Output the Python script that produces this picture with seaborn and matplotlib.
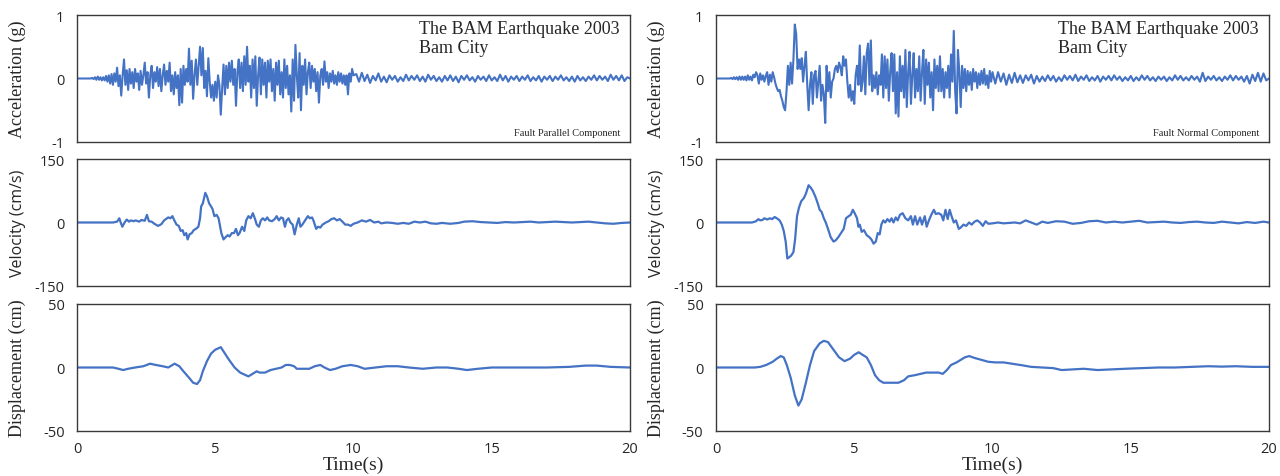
import numpy as np
import pandas as pd
import seaborn as sns
import matplotlib.pyplot as plt

# ---- data (time in s) ----
# acceleration (g), 0-10 s every 0.05 s, then 10.1-20 s every 0.1 s
acc_fp_strong = [
    0, 0, 0, 0, 0, 0, 0, 0, 0, 0, 0, 0.01, -0.01, 0.02, -0.02, 0.03, -0.02, 0.02, -0.03, 0.02,
    -0.03, 0.04, -0.05, 0.05, -0.08, 0.07, -0.10, 0.08, -0.05, 0.17, -0.12, 0.05, -0.27, 0.05, 0.30, -0.10, 0.13, -0.18, 0.15, -0.08,
    0.10, -0.15, 0.15, -0.05, 0.08, -0.18, 0.12, -0.10, 0.05, 0.25, -0.08, 0.10, -0.30, 0.05, 0.20, -0.15, 0.10, -0.05, 0.18, -0.12,
    0.15, -0.20, 0.05, 0.22, -0.10, 0.12, -0.05, 0.25, -0.20, 0.05, -0.25, 0.10, -0.15, 0.05, -0.42, 0.15, -0.38, 0.20, -0.10, 0.15,
    -0.05, 0.47, -0.10, 0.28, -0.32, 0.05, 0.30, -0.10, 0.20, 0.50, 0.05, 0.48, -0.15, 0.12, -0.28, 0.32, -0.05, -0.30, -0.10, -0.35,
    -0.05, -0.30, 0.05, -0.10, -0.57, -0.15, 0.22, -0.25, 0.20, -0.15, 0.25, -0.05, 0.28, -0.10, 0.15, -0.43, 0.10, 0.30, -0.15, 0.25,
    -0.20, 0.35, -0.10, 0.50, -0.05, 0.20, -0.30, 0.30, -0.15, 0.35, -0.43, 0.05, 0.33, -0.25, 0.30, -0.10, 0.25, -0.30, 0.28, -0.05,
    0.30, -0.20, 0.15, -0.35, 0.25, -0.10, 0.28, -0.25, 0.10, -0.30, 0.30, -0.15, 0.20, -0.25, 0.05, -0.52, 0.30, -0.35, 0.53, 0.05,
    -0.30, 0.40, -0.50, 0.20, -0.10, 0.30, -0.25, 0.10, 0.25, -0.15, 0.20, -0.05, 0.15, -0.20, 0.10, -0.38, 0.05, 0.15, -0.10, 0.27,
    -0.05, 0.10, -0.15, 0.08, -0.05, 0.12, -0.08, 0.05, -0.10, 0.10, -0.05, 0.08, -0.08, 0.05, -0.10, 0.05, -0.25, 0.08, -0.05, 0.15,
    0.05,
]
acc_fp_tail = [
    0.07, -0.05, 0.09, -0.04, 0.06, -0.07, 0.04, -0.03, 0.08, -0.05,
    0.03, -0.06, 0.05, -0.02, 0.04, -0.05, 0.02, -0.04, 0.06, -0.03,
    0.04, -0.02, 0.05, -0.04, 0.03, -0.05, 0.06, -0.02, 0.04, -0.04,
    0.02, -0.05, 0.04, -0.03, 0.05, -0.04, 0.03, -0.06, 0.04, -0.02,
    0.05, -0.03, 0.02, -0.05, 0.04, -0.02, 0.03, -0.04, 0.05, -0.03,
    0.02, -0.04, 0.06, -0.03, 0.04, -0.05, 0.03, -0.02, 0.04, -0.04,
    0.03, -0.02, 0.05, -0.04, 0.02, -0.03, 0.04, -0.05, 0.03, -0.02,
    0.04, -0.04, 0.03, -0.02, 0.05, -0.03, 0.02, -0.04, 0.03, -0.05,
    0.04, -0.03, 0.02, -0.04, 0.03, -0.02, 0.05, -0.03, 0.04, -0.02,
    0.03, -0.04, 0.06, -0.02, 0.04, -0.03, 0.05, -0.04, 0.02, 0.00,
]
acc_fn_strong = [
    0, 0, 0, 0, 0, 0, 0, 0, 0, 0, 0, 0.01, -0.01, 0.02, -0.01, 0.02, -0.02, 0.03, -0.02, 0.03,
    -0.02, 0.03, -0.03, 0.05, -0.02, 0.03, -0.03, 0.06, 0.02, 0.10, 0.05, -0.08, 0.08, -0.02, 0.05, -0.05, 0.04, 0.10, -0.10, 0.06,
    -0.05, 0.10, 0.02, -0.08, -0.15, -0.20, -0.18, -0.28, -0.35, -0.45, -0.50, -0.20, 0.20, -0.10, 0.25, -0.08, 0.30, 0.85, 0.70, 0.15,
    0.30, 0.15, 0.32, -0.05, 0.20, 0.42, -0.10, -0.50, -0.10, 0.10, -0.40, 0.05, 0.12, -0.30, -0.05, 0.20, -0.35, -0.10, -0.25, -0.70,
    0.20, -0.20, 0.10, -0.30, -0.05, 0.00, 0.15, 0.20, 0.10, 0.25, 0.18, 0.05, 0.35, 0.20, 0.30, -0.05, -0.30, -0.10, -0.35, -0.20,
    -0.40, 0.05, 0.20, -0.10, 0.52, -0.20, -0.05, 0.35, -0.25, 0.40, 0.55, -0.10, 0.60, -0.20, 0.05, -0.15, 0.10, -0.25, 0.05, -0.10,
    0.38, -0.30, 0.35, -0.15, 0.30, -0.35, 0.10, 0.40, -0.20, 0.38, -0.55, 0.10, -0.60, 0.35, -0.20, 0.20, -0.30, 0.45, -0.45, 0.10,
    0.42, -0.40, 0.05, 0.40, -0.30, 0.15, -0.20, 0.35, -0.35, 0.10, 0.45, -0.40, 0.30, -0.10, 0.25, -0.30, 0.10, -0.50, 0.30, -0.15,
    0.20, -0.20, 0.35, -0.20, 0.15, -0.30, 0.10, -0.15, 0.20, -0.30, 0.38, -0.05, 0.75, -0.20, -0.55, 0.45, 0.10, -0.45, 0.20, -0.15,
    0.15, -0.20, 0.12, -0.10, 0.10, -0.18, 0.15, -0.05, 0.10, -0.15, 0.08, -0.10, 0.12, -0.08, 0.15, -0.10, 0.05, -0.15, 0.12, -0.05,
    0.10,
]
acc_fn_tail = [
    -0.08, 0.10, -0.05, 0.08, -0.10, 0.06, -0.07, 0.09, -0.06, 0.05,
    -0.07, 0.05, -0.03, 0.06, -0.08, 0.04, -0.05, 0.03, -0.04, 0.05,
    -0.03, 0.04, -0.05, 0.02, -0.04, 0.05, -0.02, 0.04, -0.03, 0.06,
    -0.04, 0.03, -0.02, 0.05, -0.04, 0.02, -0.03, 0.04, -0.05, 0.03,
    -0.02, 0.04, -0.03, 0.05, -0.02, 0.03, -0.04, 0.02, -0.03, 0.04,
    -0.04, 0.02, -0.03, 0.05, -0.02, 0.04, -0.03, 0.02, -0.04, 0.03,
    -0.02, 0.03, -0.04, 0.02, -0.03, 0.05, -0.02, 0.04, -0.03, 0.02,
    -0.03, 0.04, -0.02, 0.03, -0.05, 0.09, -0.04, 0.03, -0.02, 0.04,
    -0.03, 0.02, -0.04, 0.03, -0.02, 0.05, -0.03, 0.04, -0.02, 0.03,
    -0.05, 0.04, -0.08, 0.06, -0.04, 0.09, -0.05, 0.08, -0.03, 0.00,
]

# velocity (cm/s), knots
vel_fp_t = [0, 1.3, 1.45, 1.53, 1.58, 1.64, 1.72, 1.8, 1.88, 1.95, 2.05, 2.12, 2.25, 2.33, 2.45, 2.53, 2.6, 2.7, 2.8, 2.93,
            3.05, 3.15, 3.3, 3.38, 3.45, 3.52, 3.6, 3.68, 3.75, 3.82, 3.88, 3.95, 4.0, 4.07, 4.15, 4.22, 4.3, 4.39, 4.45, 4.49,
            4.55, 4.64, 4.7, 4.78, 4.83, 4.9, 4.97, 5.05, 5.12, 5.22, 5.3, 5.37, 5.45, 5.52, 5.6, 5.68, 5.75, 5.82, 5.88, 5.97,
            6.05, 6.12, 6.2, 6.28, 6.36, 6.44, 6.5, 6.58, 6.65, 6.72, 6.8, 6.88, 6.95, 7.05, 7.15, 7.22, 7.3, 7.38, 7.45, 7.52,
            7.58, 7.65, 7.72, 7.8, 7.87, 7.95, 8.02, 8.08, 8.15, 8.25, 8.35, 8.42, 8.5, 8.55, 8.65, 8.72, 8.8, 8.88, 9.0, 9.1,
            9.2, 9.3, 9.4, 9.5, 9.6, 9.7, 9.8, 9.9, 10.0, 10.15, 10.3, 10.45, 10.6, 10.75, 10.9, 11.0, 11.2, 11.4, 11.6, 11.8,
            12.0, 12.2, 12.4, 12.6, 12.8, 13.0, 13.2, 13.5, 13.8, 14.0, 14.3, 14.6, 14.9, 15.2, 15.5, 15.8, 16.1, 16.4, 16.7, 17.0,
            17.3, 17.6, 17.9, 18.2, 18.5, 18.8, 19.1, 19.4, 19.7, 20.0]
vel_fp = [0, 0, 2, 10, 0, -10, 0, 7, 2, 5, 3, 5, 2, 6, 4, 18, 3, 2, -3, -8,
          -4, 5, 12, 10, 15, 5, -5, -8, -20, -18, -30, -25, -40, -28, -25, -18, -15, -10, 10, 38,
          45, 70, 62, 45, 40, 32, 15, 18, 10, -25, -40, -35, -30, -33, -25, -25, -15, -30, -25, -10,
          -20, 5, 15, 10, 22, 8, -5, -10, 5, 10, 5, 12, 5, 3, 8, 15, 5, 12, 10, -10,
          5, 10, 0, -5, -28, -5, 10, -10, -5, 5, 15, 10, 12, 5, -15, -10, -12, -5, 0, 3,
          8, 10, 5, 8, 2, -5, -5, -8, -3, 0, 5, 2, 6, 0, 2, -2, 0, -1, -3, -1,
          -3, 2, 0, 2, -2, -3, -1, -3, -1, 2, 3, 1, 0, -1, 1, 0, 1, 2, 0, 1,
          2, 1, 0, 1, 2, 0, -2, -3, -1, 0]
vel_fn_t = [0, 1.3, 1.45, 1.53, 1.6, 1.68, 1.75, 1.85, 1.95, 2.03, 2.12, 2.2, 2.3, 2.38, 2.45, 2.52, 2.58, 2.65, 2.72, 2.8,
            2.86, 2.93, 3.0, 3.08, 3.18, 3.25, 3.35, 3.43, 3.5, 3.6, 3.68, 3.75, 3.82, 3.9, 3.97, 4.05, 4.15, 4.25, 4.33, 4.42,
            4.52, 4.62, 4.7, 4.8, 4.87, 4.95, 5.03, 5.1, 5.15, 5.2, 5.27, 5.35, 5.45, 5.55, 5.62, 5.7, 5.78, 5.85, 5.92, 5.98,
            6.05, 6.12, 6.2, 6.28, 6.35, 6.42, 6.5, 6.57, 6.65, 6.75, 6.85, 6.95, 7.05, 7.12, 7.2, 7.28, 7.38, 7.45, 7.55, 7.62,
            7.7, 7.8, 7.88, 7.95, 8.05, 8.15, 8.22, 8.3, 8.38, 8.45, 8.52, 8.6, 8.68, 8.78, 8.85, 8.95, 9.05, 9.15, 9.25, 9.35,
            9.45, 9.55, 9.65, 9.75, 9.85, 10.0, 10.2, 10.4, 10.6, 10.8, 11.0, 11.2, 11.4, 11.6, 11.8, 12.0, 12.3, 12.6, 12.9, 13.2,
            13.5, 13.8, 14.1, 14.4, 14.7, 15.0, 15.3, 15.6, 15.9, 16.2, 16.5, 16.8, 17.1, 17.4, 17.7, 18.0, 18.3, 18.6, 18.9, 19.2,
            19.5, 19.8, 20.0]
vel_fn = [0, 0, 3, 8, 5, 6, 10, 7, 10, 8, 13, 10, 5, -5, -20, -45, -85, -82, -78, -70,
          -40, 15, 35, 50, 58, 68, 88, 82, 75, 60, 45, 30, 25, 10, 0, -15, -35, -45, -42, -35,
          -25, -15, 10, 15, 18, 30, 20, 10, -10, -5, -22, -18, -30, -35, -40, -50, -45, -25, -28, -5,
          5, 0, 8, 2, 10, 0, 12, 5, 18, 22, 10, 5, 15, -5, 15, -5, 12, -5, 15, -10,
          5, 20, 30, 20, 22, 18, 5, 30, 8, 30, 15, 0, 5, -15, -12, -5, -8, 0, -5, 2,
          5, 0, -8, 3, -3, -2, 0, -2, -1, 0, -2, 5, 0, -5, 2, -1, 3, 2, -3, -1,
          3, 4, 0, 2, 0, 2, 4, 0, 1, 2, 0, -1, 1, 2, 0, -1, 2, 0, -2, 1,
          -1, 2, 0]

# displacement (cm), knots
dis_fp_t = [0, 1.3, 1.5, 1.67, 1.85, 2.1, 2.4, 2.64, 2.85, 3.1, 3.3, 3.53, 3.7, 3.85, 4.05, 4.2, 4.34, 4.45, 4.55, 4.7,
            4.85, 5.0, 5.2, 5.35, 5.5, 5.7, 5.9, 6.1, 6.2, 6.35, 6.5, 6.6, 6.8, 7.0, 7.2, 7.4, 7.55, 7.7, 7.85, 7.95,
            8.2, 8.4, 8.6, 8.8, 8.95, 9.15, 9.35, 9.6, 9.9, 10.15, 10.4, 10.8, 11.2, 11.6, 12.0, 12.5, 13.0, 13.4, 13.8, 14.1,
            14.5, 15.0, 16.0, 17.0, 17.8, 18.4, 18.8, 19.3, 20.0]
dis_fp = [0, 0, -1, -2, -1, 0, 1, 3, 2, 1, 0, 3, 1, -3, -8, -12, -13, -10, -3, 5,
          11, 14, 16, 11, 6, 0, -4, -6, -7, -5, -3, -4, -4, -2, -1, 0, 2, 2, 1, -1,
          -1, -1, 1, 2, 0, -2, -1, 1, 2, 1, -1, 0, 1, 1, 0, -1, 0, 0, -1, -2,
          -1, 0, 0, 0, 0.5, 1.5, 1.5, 0.5, 0]
dis_fn_t = [0, 1.4, 1.6, 1.82, 2.05, 2.2, 2.34, 2.45, 2.56, 2.7, 2.85, 2.98, 3.1, 3.25, 3.4, 3.55, 3.75, 3.9, 4.05, 4.25,
            4.45, 4.65, 4.85, 5.0, 5.16, 5.3, 5.45, 5.6, 5.75, 5.9, 6.05, 6.3, 6.6, 6.8, 6.95, 7.2, 7.4, 7.6, 7.8, 8.05,
            8.2, 8.35, 8.5, 8.7, 8.85, 9.0, 9.16, 9.35, 9.6, 9.85, 10.1, 10.4, 10.7, 11.0, 11.4, 11.8, 12.2, 12.5, 12.9, 13.3,
            13.8, 14.3, 14.8, 15.4, 16.0, 16.6, 17.2, 17.8, 18.3, 18.8, 19.4, 20.0]
dis_fn = [0, 0, 0.5, 2, 4.5, 7, 9, 8, 2, -8, -22, -30, -25, -12, 2, 13, 19, 21, 20, 14,
          8, 5, 7, 10, 12, 10, 8, 2, -6, -10, -12, -12, -12, -10, -7, -6, -5, -4, -4, -4,
          -5, -2, 2, 4, 6, 8, 9, 7.5, 6, 4.5, 4, 4, 3, 2, 0.5, 0, -0.5, -2, -1.5, -1,
          -2, -1.5, -1, -0.5, 0, 0, 0.5, 1, 0.7, 1, 0.5, 0.5]

components = ["Fault Parallel Component", "Fault Normal Component"]
title_text = "The BAM Earthquake 2003\nBam City"
x_ticks = [0, 5, 10, 15, 20]

LINE = "#4472C4"
SERIF = ["Liberation Serif", "DejaVu Serif"]
SANS = ["Open Sans", "DejaVu Sans"]


def acc_series(strong, tail):
    t = list(0.05 * np.arange(len(strong))) + list(10 + 0.1 * np.arange(1, len(tail) + 1))
    return pd.DataFrame({"t": t, "v": list(strong) + list(tail)})


def style_axis(ax, lim, ticks, ylabel, label_font, label_size, show_x):
    ax.set_xlim(0, 20)
    ax.set_ylim(-lim, lim)
    ax.set_yticks(ticks)
    ax.set_yticklabels([str(v) for v in ticks], family=SANS, fontsize=10.5)
    ax.tick_params(length=0, pad=9)
    if show_x:
        ax.set_xticks(x_ticks)
        ax.set_xticklabels([str(v) for v in x_ticks], family=SANS, fontsize=10.5)
        ax.tick_params(axis="x", pad=7)
        ax.set_xlabel("Time(s)", family=SERIF, fontsize=14, labelpad=0)
    else:
        ax.set_xticks([])
        ax.set_xlabel("")
    ax.set_ylabel(ylabel, family=label_font, fontsize=label_size)
    ax.yaxis.set_label_coords(-0.092, 0.5)
    for sp in ax.spines.values():
        sp.set_visible(True)
        sp.set_color("#3a3a3a")
        sp.set_linewidth(1.0)


sns.set_style("white")
plt.rcParams["font.family"] = SANS

fig = plt.figure(figsize=(12.8, 4.77), dpi=100)

col_x = [77 / 1280, 716 / 1280]
col_w = 553 / 1280
row_y = [1 - 143 / 477, 1 - 287 / 477, 1 - 432 / 477]
row_h = 127 / 477

acc_data = [acc_series(acc_fp_strong, acc_fp_tail), acc_series(acc_fn_strong, acc_fn_tail)]
vel_data = [pd.DataFrame({"t": vel_fp_t, "v": vel_fp}), pd.DataFrame({"t": vel_fn_t, "v": vel_fn})]
dis_data = [pd.DataFrame({"t": dis_fp_t, "v": dis_fp}), pd.DataFrame({"t": dis_fn_t, "v": dis_fn})]

for c in range(2):
    # acceleration
    ax = fig.add_axes([col_x[c], row_y[0], col_w, row_h])
    sns.lineplot(data=acc_data[c], x="t", y="v", ax=ax, color=LINE, linewidth=1.5, errorbar=None)
    style_axis(ax, 1, [-1, 0, 1], "Acceleration (g)", SERIF, 13, False)
    ax.text(0.982, 0.96, title_text, transform=ax.transAxes, ha="right", va="top",
            multialignment="left", family=SERIF, fontsize=13, linespacing=1.15)
    ax.text(0.982, 0.04, components[c], transform=ax.transAxes, ha="right", va="bottom",
            family=SERIF, fontsize=7.5)

    # velocity
    ax = fig.add_axes([col_x[c], row_y[1], col_w, row_h])
    sns.lineplot(data=vel_data[c], x="t", y="v", ax=ax, color=LINE, linewidth=1.6, errorbar=None)
    style_axis(ax, 150, [-150, 0, 150], "Velocity (cm/s)", SANS, 11.5, False)

    # displacement
    ax = fig.add_axes([col_x[c], row_y[2], col_w, row_h])
    sns.lineplot(data=dis_data[c], x="t", y="v", ax=ax, color=LINE, linewidth=1.6, errorbar=None)
    style_axis(ax, 50, [-50, 0, 50], "Displacement (cm)", SERIF, 13, True)

fig.savefig("out.png", dpi=100)
